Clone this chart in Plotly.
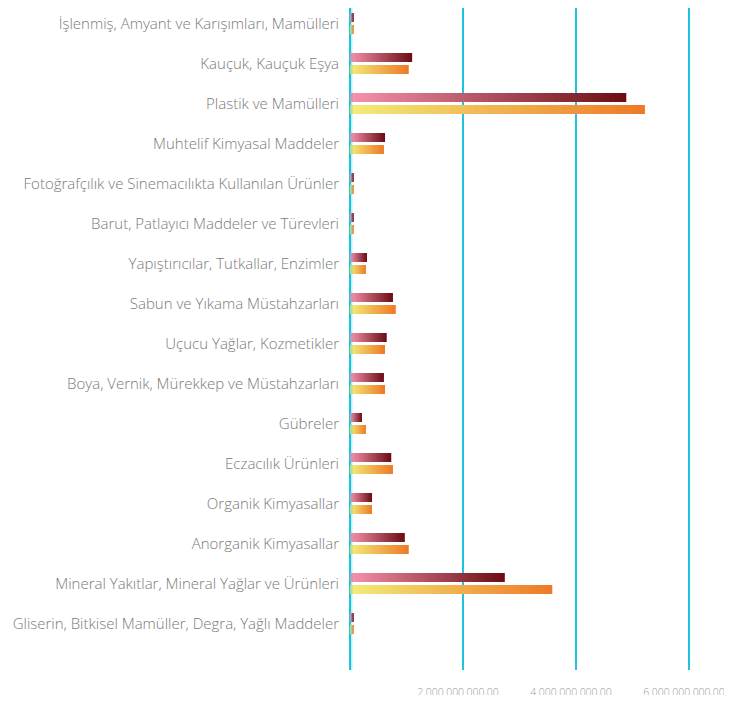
import plotly.graph_objects as go

categories = [
    "İşlenmiş, Amyant ve Karışımları, Mamülleri",
    "Kauçuk, Kauçuk Eşya",
    "Plastik ve Mamülleri",
    "Muhtelif Kimyasal Maddeler",
    "Fotoğrafçılık ve Sinemacılıkta Kullanılan Ürünler",
    "Barut, Patlayıcı Maddeler ve Türevleri",
    "Yapıştırıcılar, Tutkallar, Enzimler",
    "Sabun ve Yıkama Müstahzarları",
    "Uçucu Yağlar, Kozmetikler",
    "Boya, Vernik, Mürekkep ve Müstahzarları",
    "Gübreler",
    "Eczacılık Ürünleri",
    "Organik Kimyasallar",
    "Anorganik Kimyasallar",
    "Mineral Yakıtlar, Mineral Yağlar ve Ürünleri",
    "Gliserin, Bitkisel Mamüller, Degra, Yağlı Maddeler",
]

series_a = [0.06e9, 1.10e9, 4.89e9, 0.62e9, 0.06e9, 0.06e9, 0.30e9, 0.76e9,
            0.65e9, 0.60e9, 0.21e9, 0.73e9, 0.39e9, 0.97e9, 2.74e9, 0.06e9]
series_b = [0.06e9, 1.04e9, 5.22e9, 0.60e9, 0.06e9, 0.06e9, 0.28e9, 0.81e9,
            0.62e9, 0.62e9, 0.28e9, 0.76e9, 0.39e9, 1.04e9, 3.58e9, 0.06e9]

tick_vals = [2e9, 4e9, 6e9]
tick_text = ["2.000.000.000,00", "4.000.000.000,00", "6.000.000.000,00"]

grad_a = ((245, 145, 172), (108, 14, 20))
grad_b = ((242, 236, 120), (238, 122, 40))

N = 50


def lerp(c0, c1, t):
    return "rgb(%d,%d,%d)" % tuple(round(a + (b - a) * t) for a, b in zip(c0, c1))


fig = go.Figure()
for name, vals, grad in (("a", series_a, grad_a), ("b", series_b, grad_b)):
    # overlapping bars, longest (end colour) first, shortest (start colour) last -> gradient
    for k in range(N - 1, -1, -1):
        frac = (k + 1) / N
        fig.add_trace(go.Bar(
            y=categories,
            x=[v * frac for v in vals],
            orientation="h",
            offsetgroup=name,
            marker=dict(color=lerp(grad[0], grad[1], k / (N - 1)), line=dict(width=0)),
            showlegend=False,
            hoverinfo="skip",
        ))

# row pitch 40px, bars 9px with 3px gap; range chosen so bar edges land on whole pixels
fig.update_layout(
    width=724, height=687,
    margin=dict(l=342, r=14, t=0, b=25),
    paper_bgcolor="white", plot_bgcolor="white",
    barmode="group", bargap=0.4, bargroupgap=0.25,
    font=dict(family="Open Sans, Lato, sans-serif", color="#7a7a7a"),
    xaxis=dict(
        range=[0, 6.513e9],
        automargin=False,
        tickvals=tick_vals, ticktext=tick_text,
        showgrid=True, gridcolor="#1fc3dc", gridwidth=1.5,
        zeroline=True, zerolinecolor="#1fc3dc", zerolinewidth=1.5,
        showline=False, ticks="",
        tickfont=dict(size=10.5, color="#9a9a9a", weight=300),
        ticklabelstandoff=14,
        ticklabelshift=-5,
        ticklabeloverflow="allow",
    ),
    yaxis=dict(
        autorange=False, range=[16.1625, -0.3875],
        automargin=False,
        categoryorder="array", categoryarray=categories,
        showgrid=False, zeroline=False, showline=False, ticks="",
        tickfont=dict(size=15, color="#7a7a7a", weight=300),
        ticklabelstandoff=10,
    ),
    shapes=[dict(type="line", xref="x", yref="paper", x0=0, x1=0, y0=0, y1=1,
                 line=dict(color="rgba(31,195,220,0.3)", width=5), layer="above")],
)

fig.write_html("out.html")
